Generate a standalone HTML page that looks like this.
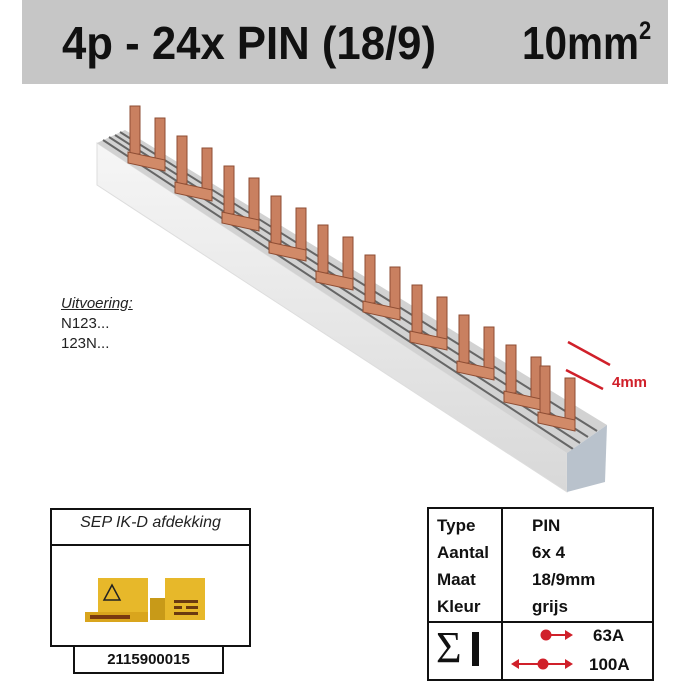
<!DOCTYPE html>
<html><head><style>
html,body{margin:0;padding:0;background:#fff;}
body{width:700px;height:700px;position:relative;overflow:hidden;font-family:"Liberation Sans",sans-serif;}
.hdr{position:absolute;left:22px;top:0;width:646px;height:84px;background:#c6c6c6;}
.t1{position:absolute;left:62px;top:16px;font-size:46px;font-weight:bold;color:#111;transform:scaleX(0.95);transform-origin:left top;white-space:nowrap;}
.t2{position:absolute;left:522px;top:16px;font-size:46px;font-weight:bold;color:#111;transform:scaleX(0.88);transform-origin:left top;white-space:nowrap;}
.t2 sup{font-size:25px;position:relative;top:-4px;}
.uit{position:absolute;left:61px;top:294px;font-size:15px;line-height:20px;color:#222;}
.box{position:absolute;border:2px solid #111;box-sizing:border-box;}
.tb{position:absolute;font-size:17px;font-weight:bold;color:#111;}
</style></head><body>
<div class="hdr"></div>
<div class="t1">4p - 24x PIN (18/9)</div>
<div class="t2">10mm<sup>2</sup></div>

<svg width="700" height="700" style="position:absolute;left:0;top:0">
 <defs>
  <linearGradient id="fr" x1="0" y1="0" x2="0" y2="1"><stop offset="0" stop-color="#f6f6f6"/><stop offset="1" stop-color="#d8d8d8"/></linearGradient>
  <g id="pin">
   <rect x="-5" y="-46" width="10" height="48" fill="#c98060" stroke="#8e4d33" stroke-width="1"/>
   <rect x="20" y="-34" width="10" height="46" fill="#c98060" stroke="#8e4d33" stroke-width="1"/>
   <path d="M-7,0 L30,8 L30,19 L-7,11 Z" fill="#d18a68" stroke="#8e4d33" stroke-width="1"/>
  </g>
 </defs>
 <polygon points="97,143 567,453 567,492 97,185" fill="url(#fr)" stroke="#ddd"/>
 <polygon points="97,143 125,130 607,425 567,453" fill="#d2d2d2"/>
 <line x1="103" y1="140" x2="573" y2="449" stroke="#666" stroke-width="2"/>
 <line x1="109" y1="137" x2="580" y2="443" stroke="#666" stroke-width="2"/>
 <line x1="115" y1="135" x2="588" y2="437" stroke="#666" stroke-width="2"/>
 <line x1="120" y1="132" x2="597" y2="431" stroke="#666" stroke-width="2"/>
 <polygon points="567,453 607,425 605,482 567,492" fill="#b9c2cc"/>
 <use href="#pin" x="135" y="152"/>
 <use href="#pin" x="182" y="182"/>
 <use href="#pin" x="229" y="212"/>
 <use href="#pin" x="276" y="242"/>
 <use href="#pin" x="323" y="271"/>
 <use href="#pin" x="370" y="301"/>
 <use href="#pin" x="417" y="331"/>
 <use href="#pin" x="464" y="361"/>
 <use href="#pin" x="511" y="391"/>
 <use href="#pin" x="545" y="412"/>
 <line x1="568" y1="342" x2="610" y2="365" stroke="#d0202a" stroke-width="2.5"/>
 <line x1="566" y1="370" x2="603" y2="389" stroke="#d0202a" stroke-width="2.5"/>
 <text x="612" y="387" font-family="Liberation Sans" font-weight="bold" font-size="15" fill="#d0202a">4mm</text>

 <g>
  <rect x="98" y="578" width="50" height="40" fill="#e7b82a"/>
  <rect x="85" y="612" width="63" height="10" fill="#d9a51d"/>
  <rect x="90" y="615" width="40" height="4" fill="#7a3a10"/>
  <polygon points="112,585 104,600 120,600" fill="none" stroke="#222" stroke-width="1.5"/>
  <rect x="150" y="598" width="20" height="22" fill="#c89a18"/>
  <rect x="165" y="578" width="40" height="42" fill="#e7b82a"/>
  <rect x="174" y="600" width="24" height="3" fill="#6b3a10"/>
  <rect x="174" y="606" width="8" height="3" fill="#6b3a10"/><rect x="186" y="606" width="12" height="3" fill="#6b3a10"/>
  <rect x="174" y="612" width="24" height="3" fill="#6b3a10"/>
 </g>

 <g fill="#d0202a" stroke="#d0202a">
  <circle cx="546" cy="635" r="5"/>
  <line x1="546" y1="635" x2="566" y2="635" stroke-width="2"/>
  <polygon points="565,630 573,635 565,640" stroke="none"/>
  <circle cx="543" cy="664" r="5"/>
  <line x1="516" y1="664" x2="566" y2="664" stroke-width="2"/>
  <polygon points="565,659 573,664 565,669" stroke="none"/>
  <polygon points="519,659 511,664 519,669" stroke="none"/>
 </g>
</svg>

<div class="uit"><i><u>Uitvoering:</u></i><br>N123...<br>123N...</div>

<div class="box" style="left:50px;top:508px;width:201px;height:139px;"></div>
<div style="position:absolute;left:50px;top:544px;width:201px;height:2px;background:#111"></div>
<div style="position:absolute;left:50px;top:514px;width:201px;text-align:center;font-size:16px;font-style:italic;color:#222;">SEP IK-D afdekking</div>
<div class="box" style="left:73px;top:645px;width:151px;height:29px;"></div>
<div style="position:absolute;left:73px;top:651px;width:151px;text-align:center;font-size:15px;font-weight:bold;color:#111;">2115900015</div>

<div class="box" style="left:427px;top:507px;width:227px;height:174px;"></div>
<div style="position:absolute;left:501px;top:507px;width:2px;height:174px;background:#111"></div>
<div style="position:absolute;left:427px;top:621px;width:227px;height:2px;background:#111"></div>
<div class="tb" style="left:437px;top:512px;line-height:27px;">Type<br>Aantal<br>Maat<br>Kleur</div>
<div class="tb" style="left:532px;top:512px;line-height:27px;">PIN<br>6x 4<br>18/9mm<br>grijs</div>
<div style="position:absolute;left:436px;top:622px;font-family:'Liberation Serif',serif;font-size:44px;color:#111;">&Sigma;</div>
<div style="position:absolute;left:472px;top:632px;width:7px;height:34px;background:#111"></div>
<div class="tb" style="left:593px;top:626px;">63A</div>
<div class="tb" style="left:589px;top:655px;">100A</div>
</body></html>
